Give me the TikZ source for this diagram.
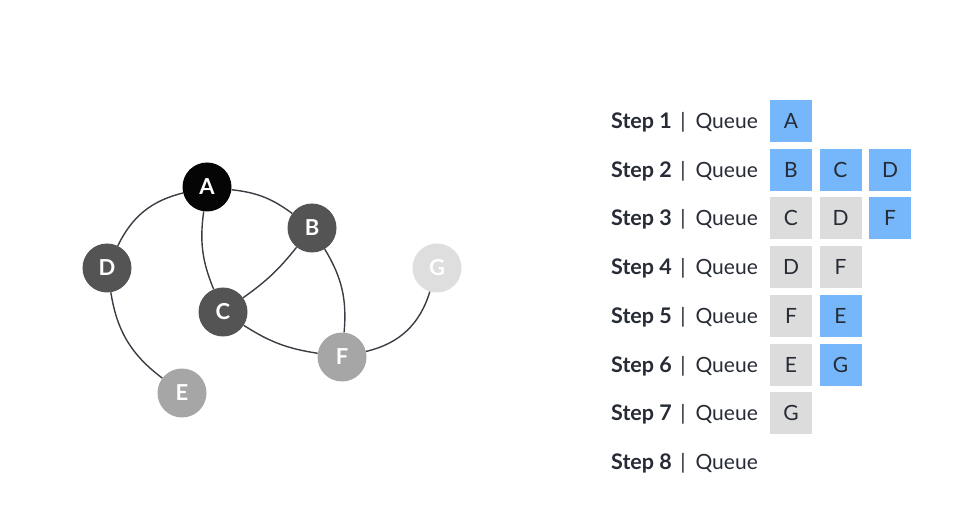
\documentclass[tikz,border=0pt]{standalone}
\usepackage{fontspec}
\setmainfont{Lato}
\definecolor{edgec}{HTML}{3A3D45}
\definecolor{nblack}{HTML}{050505}
\definecolor{ndark}{HTML}{545454}
\definecolor{nmid}{HTML}{A6A6A6}
\definecolor{nlight}{HTML}{DEDEDE}
\definecolor{qblue}{HTML}{76B6FA}
\definecolor{qgray}{HTML}{DCDCDC}
\definecolor{txt}{HTML}{262B36}
\tikzset{
  gnode/.style={circle, minimum size=49pt, inner sep=0pt, text=white, font=\fontsize{22}{22}\selectfont\bfseries},
  gedge/.style={draw=edgec, line width=1.4pt},
  qbox/.style={minimum size=42pt, inner sep=0pt, text=txt, font=\fontsize{21}{21}\selectfont},
  qb/.style={qbox, fill=qblue},
  qg/.style={qbox, fill=qgray},
  steplabel/.style={anchor=west, inner sep=0pt, text=txt, font=\fontsize{21.5}{21.5}\selectfont\bfseries},
  barlabel/.style={inner sep=0pt, text=txt, font=\fontsize{21}{21}\selectfont},
  queuelabel/.style={anchor=east, inner sep=0pt, text=txt, font=\fontsize{21}{21}\selectfont}
}
\begin{document}
\begin{tikzpicture}[x=1pt,y=-1pt]
\useasboundingbox (0,0) rectangle (953,521);
% graph nodes
\node[gnode, fill=nblack] (A) at (207,187) {A};
\node[gnode, fill=ndark] (B) at (312,228) {B};
\node[gnode, fill=ndark] (D) at (107,268) {D};
\node[gnode, fill=ndark] (C) at (223,312) {C};
\node[gnode, fill=nlight] (G) at (437,268) {G};
\node[gnode, fill=nmid] (F) at (342,357) {F};
\node[gnode, fill=nmid] (E) at (182,393) {E};
% edges
\draw[gedge] (A) to[bend right=25] (D);
\draw[gedge] (A) to[bend left=15] (B);
\draw[gedge] (A) to[bend right=15] (C);
\draw[gedge] (B) to[bend left=8] (C);
\draw[gedge] (B) to[bend left=18] (F);
\draw[gedge] (C) to[bend right=12] (F);
\draw[gedge] (D) to[bend right=22] (E);
\draw[gedge] (F) to[bend right=30] (G);
% queue table
\foreach \i/\y in {1/122,2/171,3/219,4/268,5/317,6/366,7/414,8/463}{
  \node[steplabel] (s\i) at (611,\y) {Step \i};
  \node[barlabel] (b\i) at (683,\y) {|};
  \node[queuelabel] (q\i) at (758,\y) {Queue};
}
\node[qb] (r1a) at (791,121) {A};
\node[qb] (r2a) at (791,170) {B};
\node[qb] (r2b) at (840.5,170) {C};
\node[qb] (r2c) at (890,170) {D};
\node[qg] (r3a) at (791,218) {C};
\node[qg] (r3b) at (840.5,218) {D};
\node[qb] (r3c) at (890,218) {F};
\node[qg] (r4a) at (791,267) {D};
\node[qg] (r4b) at (840.5,267) {F};
\node[qg] (r5a) at (791,316) {F};
\node[qb] (r5b) at (840.5,316) {E};
\node[qg] (r6a) at (791,365) {E};
\node[qb] (r6b) at (840.5,365) {G};
\node[qg] (r7a) at (791,413) {G};
\end{tikzpicture}
\end{document}
